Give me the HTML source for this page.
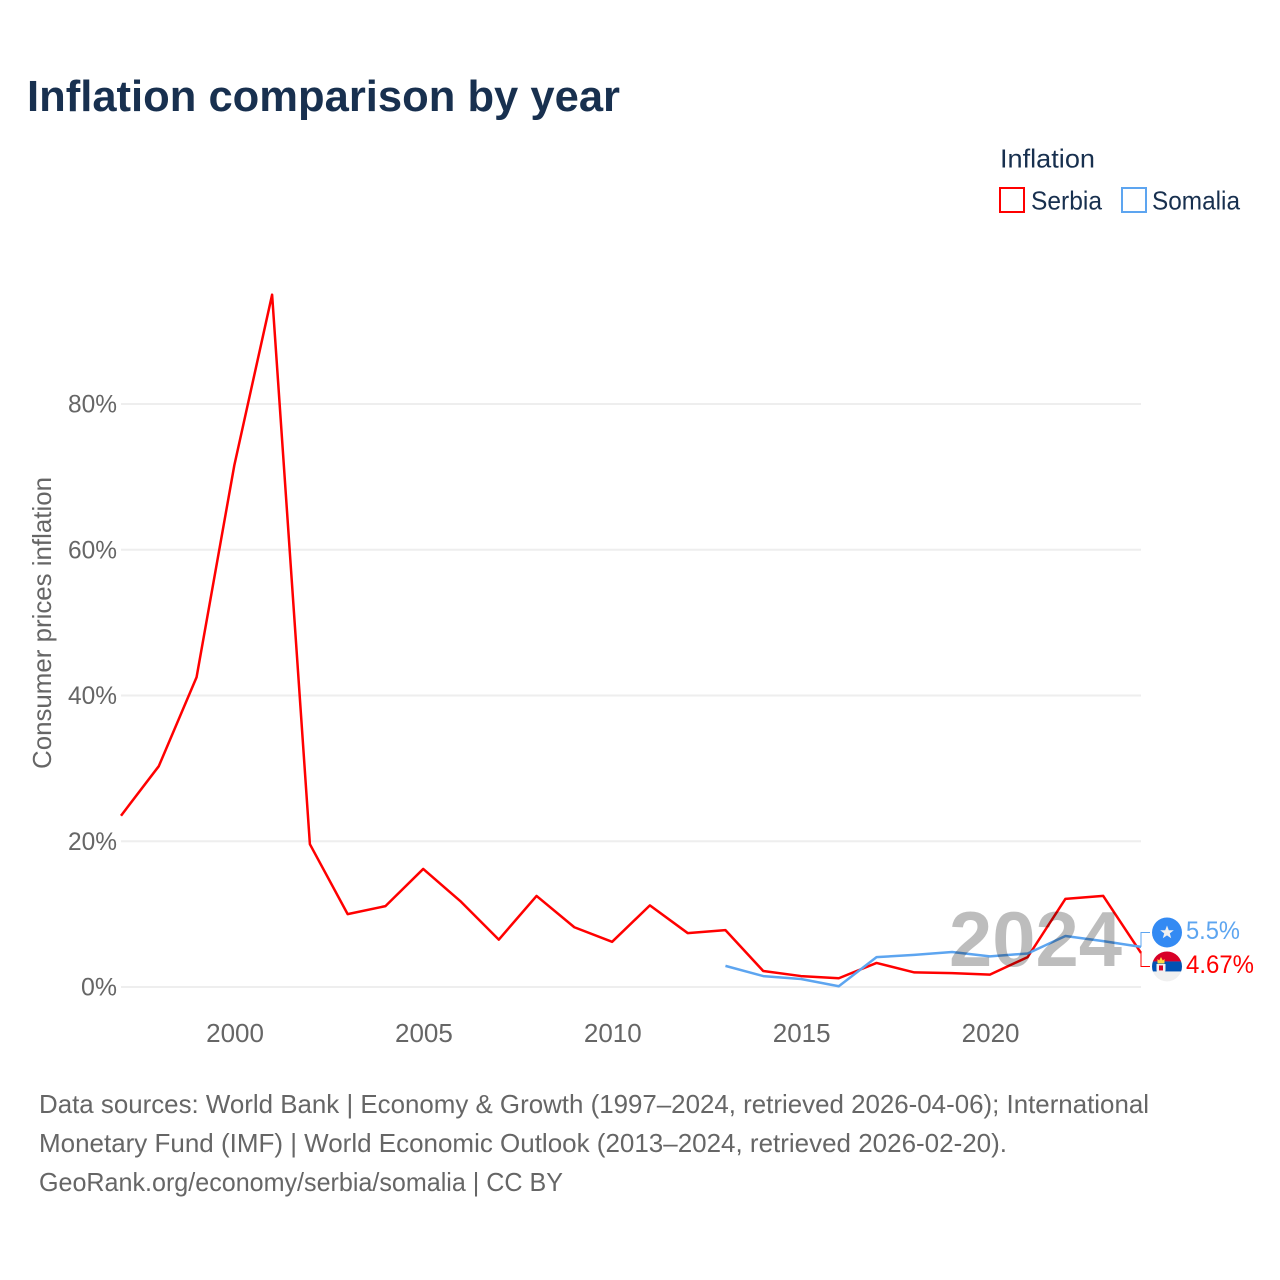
<!DOCTYPE html>
<html lang="en">
<head>
<meta charset="utf-8">
<title>Inflation comparison by year</title>
<style>
html,body{margin:0;padding:0;background:#fff;}
svg{display:block;font-family:"Liberation Sans",sans-serif;}
</style>
</head>
<body>
<svg id="chart" xmlns="http://www.w3.org/2000/svg" width="1280" height="1280" viewBox="0 0 1280 1280">
  <defs>
    <clipPath id="flag-clip"><circle r="15"/></clipPath>
  </defs>
  <rect width="1280" height="1280" fill="#fff"/>
  <text x="27" y="111" font-size="44" font-weight="700" fill="#18304f" textLength="593" lengthAdjust="spacingAndGlyphs">Inflation comparison by year</text>

  <g>
    <text x="1000" y="167.5" font-size="26" fill="#18304f" textLength="95" lengthAdjust="spacingAndGlyphs">Inflation</text>
    <g>
      <rect x="1000" y="188" width="24" height="24" fill="#fff" stroke="#ff0000" stroke-width="2"/>
      <text x="1031" y="209.5" font-size="26" fill="#18304f" textLength="71" lengthAdjust="spacingAndGlyphs">Serbia</text>
    </g>
    <g>
      <rect x="1122" y="188" width="24" height="24" fill="#fff" stroke="#5da5f0" stroke-width="2"/>
      <text x="1152" y="209.5" font-size="26" fill="#18304f" textLength="88" lengthAdjust="spacingAndGlyphs">Somalia</text>
    </g>
  </g>

  <text transform="translate(51,769) rotate(-90)" font-size="26" fill="#666" textLength="292" lengthAdjust="spacingAndGlyphs">Consumer prices inflation</text>

  <g id="grid"></g>
  <g id="yticks"></g>
  <g id="xticks"></g>
  <g id="lines"></g>

  <text x="949" y="966" font-size="78" font-weight="700" fill="#000" fill-opacity="0.26" textLength="173" lengthAdjust="spacingAndGlyphs">2024</text>

  <g id="ends"></g>

  <g font-size="26" fill="#666">
    <text x="39" y="1113" textLength="1110" lengthAdjust="spacingAndGlyphs">Data sources: World Bank | Economy &amp; Growth (1997–2024, retrieved 2026-04-06); International</text>
    <text x="39" y="1152" textLength="968" lengthAdjust="spacingAndGlyphs">Monetary Fund (IMF) | World Economic Outlook (2013–2024, retrieved 2026-02-20).</text>
    <text x="39" y="1191" textLength="524" lengthAdjust="spacingAndGlyphs">GeoRank.org/economy/serbia/somalia | CC BY</text>
  </g>
</svg>
<script>
const serbiaYears = [1997,1998,1999,2000,2001,2002,2003,2004,2005,2006,2007,2008,2009,2010,2011,2012,2013,2014,2015,2016,2017,2018,2019,2020,2021,2022,2023,2024];
const serbiaValues = [23.5,30.3,42.5,71.6,95.0,19.6,10.0,11.1,16.2,11.7,6.5,12.5,8.2,6.2,11.2,7.4,7.8,2.2,1.5,1.2,3.3,2.0,1.9,1.7,4.1,12.1,12.5,4.67];
const somaliaYears = [2013,2014,2015,2016,2017,2018,2019,2020,2021,2022,2023,2024];
const somaliaValues = [2.9,1.5,1.1,0.1,4.1,4.4,4.8,4.2,4.6,7.0,6.3,5.5];
const yTickValues = [0,20,40,60,80];
const xTickValues = [2000,2005,2010,2015,2020];

const SVG_NS = 'http://www.w3.org/2000/svg';
const xOf = function (year) { return 121 + (year - 1997) * (1141 - 121) / (2024 - 1997); };
const yOf = function (value) { return 987 - value * (987 - 404) / 80; };

function make(parent, tag, attrs, text) {
  const el = document.createElementNS(SVG_NS, tag);
  Object.keys(attrs).forEach(function (k) { el.setAttribute(k, attrs[k]); });
  if (text !== undefined) el.textContent = text;
  parent.appendChild(el);
  return el;
}

const gridGroup = document.getElementById('grid');
const yTickGroup = document.getElementById('yticks');
yTickValues.forEach(function (v) {
  const line = make(gridGroup, 'line', {x1: 121, x2: 1141, y1: yOf(v), y2: yOf(v), stroke: '#eeeeee', 'stroke-width': 2});
  
  
  const label = make(yTickGroup, 'text', {x: 117, y: yOf(v) + 8.5, 'text-anchor': 'end', 'font-size': 25, fill: '#666', textLength: v === 0 ? 36 : 49, lengthAdjust: 'spacingAndGlyphs'}, v + '%');
  
  
});

const xTickGroup = document.getElementById('xticks');
xTickValues.forEach(function (v) {
  const label = make(xTickGroup, 'text', {x: xOf(v) + 0.7, y: 1042, 'text-anchor': 'middle', 'font-size': 26, fill: '#666'}, String(v));
  
  
});

function pathFor(years, values) {
  return values.map(function (v, i) {
    return (i ? 'L' : 'M') + xOf(years[i]).toFixed(2) + ' ' + yOf(v).toFixed(2);
  }).join(' ');
}

const lineGroup = document.getElementById('lines');
const serbiaLine = make(lineGroup, 'path', {d: pathFor(serbiaYears, serbiaValues), fill: 'none', stroke: '#ff0000', 'stroke-width': 2.5, 'stroke-linejoin': 'round'});


const somaliaLine = make(lineGroup, 'path', {d: pathFor(somaliaYears, somaliaValues), fill: 'none', stroke: '#5da5f0', 'stroke-width': 2.5, 'stroke-linejoin': 'round'});



const endGroup = document.getElementById('ends');
const lastSerbia = serbiaValues[serbiaValues.length - 1];
const lastSomalia = somaliaValues[somaliaValues.length - 1];
const midY = (yOf(lastSerbia) + yOf(lastSomalia)) / 2;
const somaliaLabelY = midY - 17.5;
const serbiaLabelY = midY + 16.5;
const endX = xOf(2024);

const somaliaConnector = make(endGroup, 'path', {d: 'M' + endX + ' ' + yOf(lastSomalia) + ' V' + somaliaLabelY + ' H1150', fill: 'none', stroke: '#5da5f0', 'stroke-width': 1});


const serbiaConnector = make(endGroup, 'path', {d: 'M' + endX + ' ' + yOf(lastSerbia) + ' V' + serbiaLabelY + ' H1150', fill: 'none', stroke: '#ff0000', 'stroke-width': 1});



const somaliaFlag = make(endGroup, 'g', {transform: 'translate(1167,' + somaliaLabelY + ')'});


make(somaliaFlag, 'circle', {r: 15, fill: '#338af3'});
make(somaliaFlag, 'polygon', {points: '0,-7 1.8,-2.2 6.8,-2.2 2.8,0.9 4.2,5.8 0,2.9 -4.2,5.8 -2.8,0.9 -6.8,-2.2 -1.8,-2.2', fill: '#f0f0f0'});

const serbiaFlag = make(endGroup, 'g', {transform: 'translate(1167,' + serbiaLabelY + ')'});


const serbiaBands = make(serbiaFlag, 'g', {'clip-path': 'url(#flag-clip)'});
make(serbiaBands, 'rect', {x: -15, y: -15, width: 30, height: 30, fill: '#f0f0f0'});
make(serbiaBands, 'rect', {x: -15, y: -15, width: 30, height: 10, fill: '#d80027'});
make(serbiaBands, 'rect', {x: -15, y: -5, width: 30, height: 10, fill: '#0052b4'});
make(serbiaFlag, 'path', {d: 'M-10.5 -2.5 H-1.5 V3.5 Q-1.5 7.5 -6 8 Q-10.5 7.5 -10.5 3.5 Z', fill: '#f0f0f0'});
make(serbiaFlag, 'path', {d: 'M-9.5 -3 L-9.5 -7.5 L-7.8 -6 L-6 -9.5 L-4.2 -6 L-2.5 -7.5 L-2.5 -3 Z', fill: '#ffda44'});
make(serbiaFlag, 'rect', {x: -8, y: -1, width: 4, height: 5, fill: '#d80027'});

const somaliaValueLabel = make(endGroup, 'text', {x: 1186, y: somaliaLabelY + 6.5, 'font-size': 25, fill: '#5da5f0', textLength: 54, lengthAdjust: 'spacingAndGlyphs'}, lastSomalia + '%');


const serbiaValueLabel = make(endGroup, 'text', {x: 1186, y: serbiaLabelY + 6.5, 'font-size': 25, fill: '#ff0000', textLength: 68, lengthAdjust: 'spacingAndGlyphs'}, lastSerbia + '%');


</script>
</body>
</html>
